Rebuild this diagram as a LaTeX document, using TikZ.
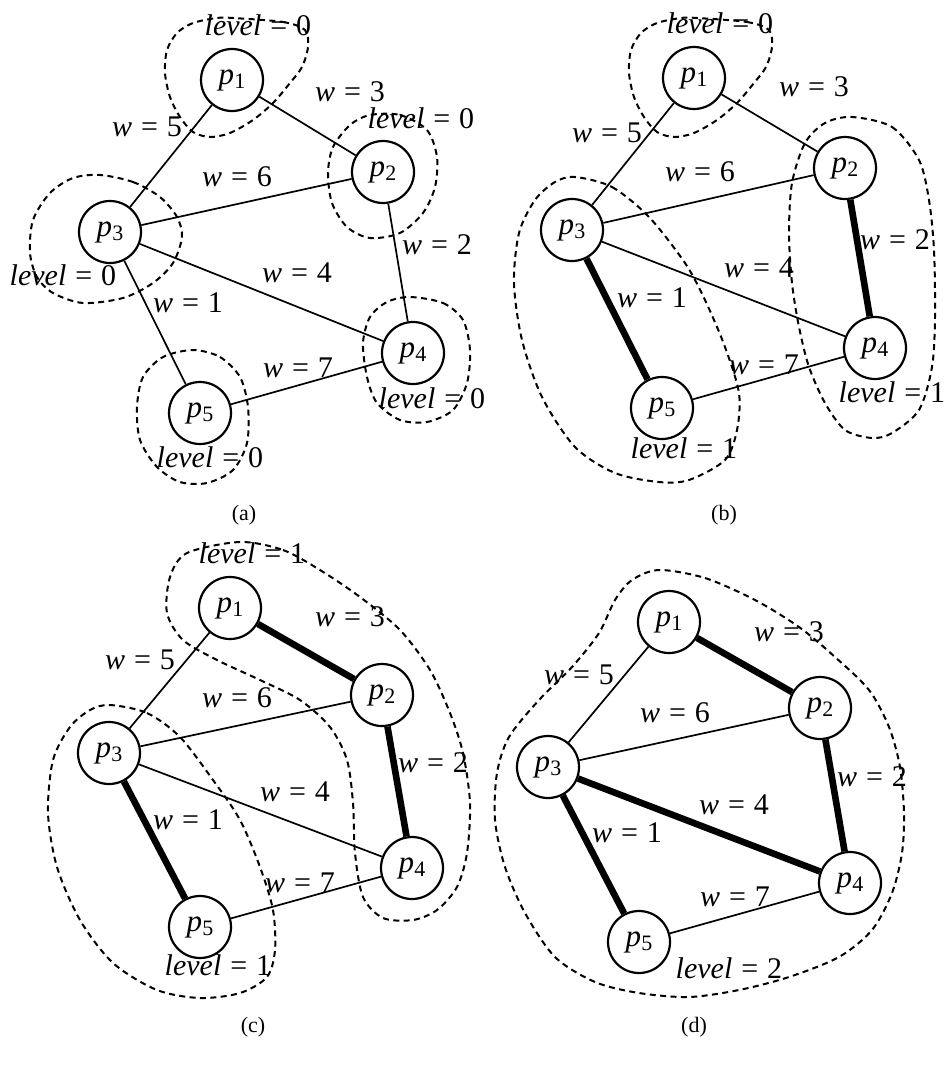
\documentclass[tikz,border=0pt]{standalone}
\usepackage{fontspec}
\setmainfont{Liberation Serif}
\newcommand\pl[1]{\textit{p}\kern0.01em\raisebox{-0.3ex}{\fontsize{11}{12}\selectfont #1}}
\newcommand\eqlab[2]{\textit{#1}\kern0.3em=\kern0.3em#2}
\tikzset{
  pnode/.style={circle,draw,line width=1.1pt,fill=white,minimum size=31pt,inner sep=0pt,font=\fontsize{15.5}{18}\selectfont},
  edge/.style={line width=0.85pt},
  heavy/.style={line width=3.3pt},
  ring/.style={line width=1pt,dash pattern=on 3pt off 2.2pt},
  lab/.style={font=\fontsize{15}{18}\selectfont,inner sep=0pt},
  caplab/.style={font=\fontsize{11}{13}\selectfont,inner sep=0pt}
}
\begin{document}
\begin{tikzpicture}[x=0.5pt,y=-0.5pt]
\useasboundingbox (0,0) rectangle (944,1066);

% ================= (a) =================
\draw[ring] plot[smooth cycle] coordinates {(233,18) (283,22) (305,30) (308,47) (302,67) (290,83) (273,103) (253,120) (230,133) (210,137) (193,132) (180,117) (170,97) (165,73) (167,50) (177,33) (193,23) (217,18)};
\draw[ring] plot[smooth cycle] coordinates {(370,115) (400,115) (427,130) (437,157) (435,187) (423,213) (400,233) (370,238) (347,227) (332,203) (328,173) (333,147) (350,125)};
\draw[ring] plot[smooth cycle] coordinates {(100,175) (133,182) (160,197) (177,217) (182,237) (173,263) (153,283) (123,298) (83,303) (53,293) (37,277) (30,253) (33,220) (50,193) (73,178)};
\draw[ring] plot[smooth cycle] coordinates {(410,297) (443,303) (463,320) (470,350) (467,383) (453,410) (427,422) (400,420) (377,403) (367,377) (363,343) (370,317) (387,302)};
\draw[ring] plot[smooth cycle] coordinates {(193,350) (220,357) (240,377) (248,407) (247,443) (233,470) (207,483) (180,482) (157,467) (140,440) (137,407) (143,377) (163,357)};

\node[pnode] (a1) at (232,80) {\pl{1}};
\node[pnode] (a2) at (383,172) {\pl{2}};
\node[pnode] (a3) at (110,232) {\pl{3}};
\node[pnode] (a4) at (413,353) {\pl{4}};
\node[pnode] (a5) at (200,413) {\pl{5}};
\draw[edge] (a1) -- (a2);
\draw[edge] (a1) -- (a3);
\draw[edge] (a2) -- (a3);
\draw[edge] (a2) -- (a4);
\draw[edge] (a3) -- (a4);
\draw[edge] (a3) -- (a5);
\draw[edge] (a4) -- (a5);
\node[lab] at (350,92) {\eqlab{w}{3}};
\node[lab] at (147,127) {\eqlab{w}{5}};
\node[lab] at (237,177) {\eqlab{w}{6}};
\node[lab] at (437,245) {\eqlab{w}{2}};
\node[lab] at (297,273) {\eqlab{w}{4}};
\node[lab] at (188,303) {\eqlab{w}{1}};
\node[lab] at (298,368) {\eqlab{w}{7}};
\node[lab] at (258,25) {\eqlab{level}{0}};
\node[lab] at (421,118) {\eqlab{level}{0}};
\node[lab] at (63,275) {\eqlab{level}{0}};
\node[lab] at (432,398) {\eqlab{level}{0}};
\node[lab] at (210,457) {\eqlab{level}{0}};
\node[caplab] at (244,515) {(a)};

% ================= (b) =================
\begin{scope}[shift={(464,0)}]
\draw[ring] plot[smooth cycle] coordinates {(233,18) (283,22) (305,30) (308,47) (302,67) (290,83) (273,103) (253,120) (230,133) (210,137) (193,132) (180,117) (170,97) (165,73) (167,50) (177,33) (193,23) (217,18)};
\end{scope}
\draw[ring] plot[smooth cycle] coordinates {(575,177) (612,187) (649,217) (685,263) (705,300) (725,347) (739,393) (737,430) (725,460) (689,480) (659,482) (615,473) (575,447) (542,397) (522,340) (514,283) (519,233) (535,200) (555,182)};
\draw[ring] plot[smooth cycle] coordinates {(852,117) (892,127) (919,160) (929,200) (934,250) (935,317) (932,367) (919,410) (892,433) (872,438) (845,430) (825,403) (809,367) (799,327) (792,283) (789,233) (792,183) (805,143) (825,123)};

\node[pnode] (b1) at (694,78) {\pl{1}};
\node[pnode] (b2) at (845,168) {\pl{2}};
\node[pnode] (b3) at (572,230) {\pl{3}};
\node[pnode] (b4) at (875,348) {\pl{4}};
\node[pnode] (b5) at (662,408) {\pl{5}};
\draw[edge] (b1) -- (b2);
\draw[edge] (b1) -- (b3);
\draw[edge] (b2) -- (b3);
\draw[heavy] (b2) -- (b4);
\draw[edge] (b3) -- (b4);
\draw[heavy] (b3) -- (b5);
\draw[edge] (b4) -- (b5);
\node[lab] at (814,87) {\eqlab{w}{3}};
\node[lab] at (607,133) {\eqlab{w}{5}};
\node[lab] at (700,172) {\eqlab{w}{6}};
\node[lab] at (895,240) {\eqlab{w}{2}};
\node[lab] at (759,268) {\eqlab{w}{4}};
\node[lab] at (652,298) {\eqlab{w}{1}};
\node[lab] at (764,365) {\eqlab{w}{7}};
\node[lab] at (720,23) {\eqlab{level}{0}};
\node[lab] at (892,392) {\eqlab{level}{1}};
\node[lab] at (684,448) {\eqlab{level}{1}};
\node[caplab] at (724,515) {(b)};

% ================= (c) =================
\draw[ring] plot[smooth cycle] coordinates {(240,542) (283,550) (320,570) (360,597) (400,630) (430,670) (450,713) (463,753) (470,803) (467,853) (457,887) (437,910) (413,920) (383,918) (363,897) (355,853) (353,803) (347,760) (330,727) (300,700) (260,680) (217,660) (183,640) (167,613) (170,577) (187,553)};
\draw[ring] plot[smooth cycle] coordinates {(110,705) (147,713) (180,737) (213,780) (240,820) (260,867) (273,910) (275,950) (267,977) (240,993) (200,998) (157,990) (113,963) (80,920) (57,867) (48,813) (53,760) (70,727) (90,710)};

\node[pnode] (c1) at (230,608) {\pl{1}};
\node[pnode] (c2) at (382,695) {\pl{2}};
\node[pnode] (c3) at (109,753) {\pl{3}};
\node[pnode] (c4) at (412,868) {\pl{4}};
\node[pnode] (c5) at (200,927) {\pl{5}};
\draw[heavy] (c1) -- (c2);
\draw[edge] (c1) -- (c3);
\draw[edge] (c2) -- (c3);
\draw[heavy] (c2) -- (c4);
\draw[edge] (c3) -- (c4);
\draw[heavy] (c3) -- (c5);
\draw[edge] (c4) -- (c5);
\node[lab] at (350,617) {\eqlab{w}{3}};
\node[lab] at (140,660) {\eqlab{w}{5}};
\node[lab] at (237,698) {\eqlab{w}{6}};
\node[lab] at (433,763) {\eqlab{w}{2}};
\node[lab] at (295,792) {\eqlab{w}{4}};
\node[lab] at (188,820) {\eqlab{w}{1}};
\node[lab] at (300,883) {\eqlab{w}{7}};
\node[lab] at (252,553) {\eqlab{level}{1}};
\node[lab] at (218,965) {\eqlab{level}{1}};
\node[caplab] at (253,1027) {(c)};

% ================= (d) =================
\draw[ring] plot[smooth cycle] coordinates {(659,570) (705,578) (755,600) (799,627) (835,657) (869,690) (889,727) (900,767) (904,813) (902,853) (892,893) (872,930) (839,957) (789,977) (739,990) (689,997) (639,993) (595,982) (555,957) (525,913) (505,867) (495,820) (497,773) (509,737) (539,700) (572,667) (599,633) (615,600) (632,580)};

\node[pnode] (d1) at (669,622) {\pl{1}};
\node[pnode] (d2) at (820,708) {\pl{2}};
\node[pnode] (d3) at (548,767) {\pl{3}};
\node[pnode] (d4) at (850,883) {\pl{4}};
\node[pnode] (d5) at (639,942) {\pl{5}};
\draw[heavy] (d1) -- (d2);
\draw[edge] (d1) -- (d3);
\draw[edge] (d2) -- (d3);
\draw[heavy] (d2) -- (d4);
\draw[heavy] (d3) -- (d4);
\draw[heavy] (d3) -- (d5);
\draw[edge] (d4) -- (d5);
\node[lab] at (789,632) {\eqlab{w}{3}};
\node[lab] at (579,675) {\eqlab{w}{5}};
\node[lab] at (675,713) {\eqlab{w}{6}};
\node[lab] at (872,777) {\eqlab{w}{2}};
\node[lab] at (734,805) {\eqlab{w}{4}};
\node[lab] at (627,833) {\eqlab{w}{1}};
\node[lab] at (735,897) {\eqlab{w}{7}};
\node[lab] at (729,968) {\eqlab{level}{2}};
\node[caplab] at (694,1027) {(d)};
\end{tikzpicture}
\end{document}
